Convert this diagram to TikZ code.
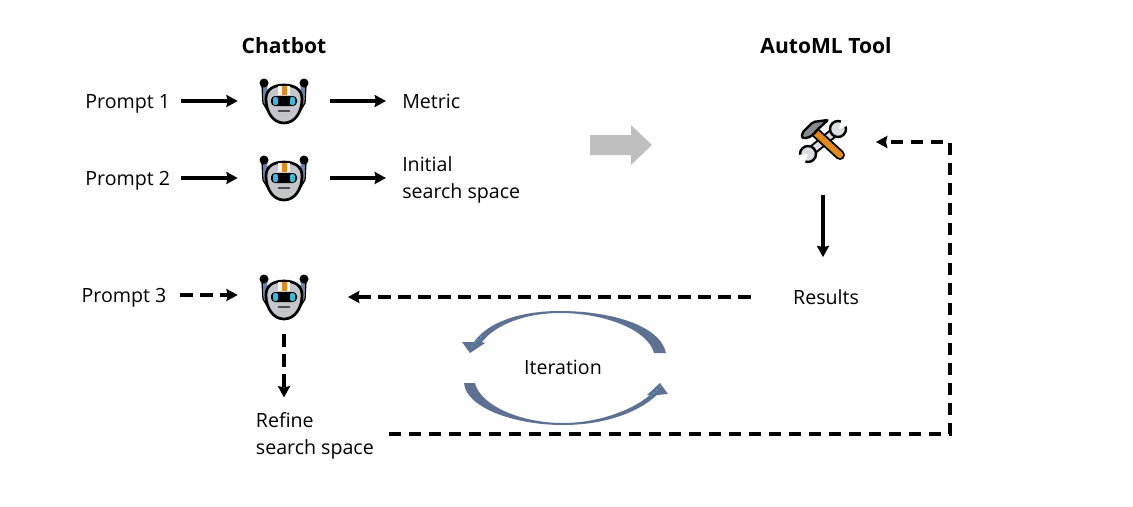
\documentclass[tikz,border=0pt]{standalone}
\usepackage{fontspec}
\setmainfont{Open Sans}
\usetikzlibrary{arrows.meta}
\definecolor{botgrey}{HTML}{C4C6CC}
\definecolor{botblue}{HTML}{6E83A8}
\definecolor{boteye}{HTML}{3FB8E0}
\definecolor{toolorange}{HTML}{E08A1E}
\definecolor{loopblue}{HTML}{5F7192}
\tikzset{
	label/.style={font=\fontsize{14.7}{20.6}\selectfont,align=left},
	title/.style={font=\fontsize{15.8}{20}\selectfont\bfseries},
	prompt/.style={label,text height=11pt,text depth=0.5pt},
	botbox/.style={minimum width=69pt,minimum height=57pt,inner sep=0pt},
	solidarrow/.style={line width=2.5pt,-{Stealth[length=8.5pt,width=9pt,inset=1pt]}},
	dasharrow/.style={solidarrow,dash pattern=on 9.5pt off 5.5pt},
	robot/.pic={
		% antennas and ears
		\draw[botblue,line width=3.4pt] (-19,-15) -- (-18,2) -- (-14,9);
		\draw[botblue,line width=3.4pt] (19,-15) -- (18,2) -- (14,9);
		\draw[black,line width=1pt] (-22,-15) -- (-21,3) -- (-15,13);
		\draw[black,line width=1pt] (22,-15) -- (21,3) -- (15,13);
		\fill[black] (-20,-17) circle (4.5);
		\fill[black] (20,-17) circle (4.5);
		% head
		\draw[fill=botgrey,line width=2pt] (-18,-1) .. controls (-18,-11) and (-10,-15) .. (0,-15)
			.. controls (10,-15) and (18,-11) .. (18,-1)
			.. controls (18,12) and (11,23) .. (0,23)
			.. controls (-11,23) and (-18,12) .. (-18,-1) -- cycle;
		\fill[white!85!botgrey] (-6,-14) rectangle (6,-5);
		\fill[toolorange] (-2.5,-14) rectangle (2.5,-5);
		% visor
		\fill[black,rounded corners=3pt] (-13,-4) rectangle (13,6);
		\fill[boteye,rounded corners=1.5pt] (-11,-3) rectangle (-6,5);
		\fill[boteye,rounded corners=1.5pt] (6,-3) rectangle (11,5);
		% mouth
		\fill[black!70] (-6,10) rectangle (6,12);
		\fill[black!25] (-6,14.5) rectangle (6,15.5);
	},
	wrench/.pic={
		% wrench
		\draw[line width=7.5pt,black] (-14,11) -- (14,-12);
		\draw[line width=4.5pt,botgrey!60!white] (-14,11) -- (14,-12);
		\draw[line width=1.8pt,fill=botgrey!60!white] (15,-13) circle (8);
		\draw[line width=1.8pt,fill=botgrey!60!white] (-15,12) circle (8);
		\fill[white] (19,-24) -- (26,-17) -- (16,-13) -- cycle;
		\fill[white] (-26,13) -- (-19,23) -- (-15,12) -- cycle;
		% hammer
		\draw[line width=7.5pt,black,line cap=round] (-8,-10) -- (17,13);
		\draw[line width=4.7pt,toolorange,line cap=round] (-8,-10) -- (17,13);
		\draw[line width=1.8pt,fill=botgrey!70!black,rounded corners=1.5pt] (-21,-9) -- (-10,-20) -- (5,-22)
			-- (-6,-12) -- (-9,-8) -- (-15,-4) -- (-21,-4) -- cycle;
	},
}
\begin{document}
\begin{tikzpicture}[x=0.75pt,y=-0.75pt]
	\useasboundingbox (0,0) rectangle (1133,507);

	% Titles
	\node[title] (chatbot) at (284,46) {Chatbot};
	\node[title] (automl) at (826,46) {AutoML Tool};

	% Chatbot side
	\node[botbox] (botA) at (284,101) {};
	\node[botbox] (botB) at (284,178) {};
	\node[botbox] (botC) at (284,296) {};
	\pic at (284,100) {robot};
	\pic at (284,177) {robot};
	\pic at (284,296) {robot};

	\node[prompt,anchor=east,inner sep=8pt] (promptA) at (181,101) {Prompt 1};
	\node[prompt,anchor=east,inner sep=8pt] (promptB) at (181,178) {Prompt 2};
	\node[prompt,anchor=east,inner sep=10pt] (promptC) at (180,295) {Prompt 3};
	\node[label,anchor=west,inner sep=12pt] (metric) at (386,101) {Metric};
	\node[label,anchor=west,inner sep=12pt] (space) at (386,180) {Initial\\search space};
	\node[label,anchor=west,inner sep=11pt] (refine) at (241,436) {Refine\\search space};

	% AutoML side
	\node[minimum size=79pt,inner sep=0pt] (tool) at (823,142) {};
	\pic at (tool) {wrench};
	\node[label,inner xsep=31.5pt,inner ysep=24pt] (results) at (826,297) {Results};
	\coordinate (botCin) at (348,297);
	\coordinate (corner) at (950,434);

	% Big arrow between both sides
	\fill[black!25] (590,135) -- (631,135) -- (631,125) -- (652,145) -- (631,165) -- (631,155) -- (590,155) -- cycle;

	% Iteration loop
	\node[label] (iteration) at (563,367) {Iteration};
	\fill[loopblue] (666,353) .. controls (660,325) and (610,311) .. (560,311)
		.. controls (520,311) and (488,322) .. (474,342) -- (462,342) -- (470,353) -- (485,343) -- (482,342)
		.. controls (495,325) and (525,313) .. (560,313)
		.. controls (605,313) and (648,330) .. (654,353) -- cycle;
	\fill[loopblue] (464,383) .. controls (466,408) and (515,425) .. (563,425)
		.. controls (600,425) and (635,415) .. (657,395) -- (668,394) -- (660,383) -- (647,395) -- (650,395)
		.. controls (630,412) and (595,423) .. (563,423)
		.. controls (520,423) and (480,405) .. (475,383) -- cycle;
	\foreach \dotx/\doty in {472/346,475/343,478/340,481/337,657/390,660/387,654/393,651/396}
		\fill[boteye] (\dotx,\doty) circle (0.9);

	% Solid arrows
	\draw[solidarrow] (promptA) -- (botA);
	\draw[solidarrow] (promptB) -- (botB);
	\draw[solidarrow] (botA) -- (metric);
	\draw[solidarrow] (botB) -- (botB -| space.west);
	\draw[solidarrow] (tool.south) -- (tool.south |- results.north);

	% Dashed arrows
	\draw[dasharrow] (promptC) -- (botC.west |- promptC);
	\draw[dasharrow] (results) -- (botCin);
	\draw[dasharrow] (botC) -- (botC |- refine.north);
	\draw[dasharrow] (refine.east |- corner) -- (corner) |- (tool.east);
\end{tikzpicture}
\end{document}
